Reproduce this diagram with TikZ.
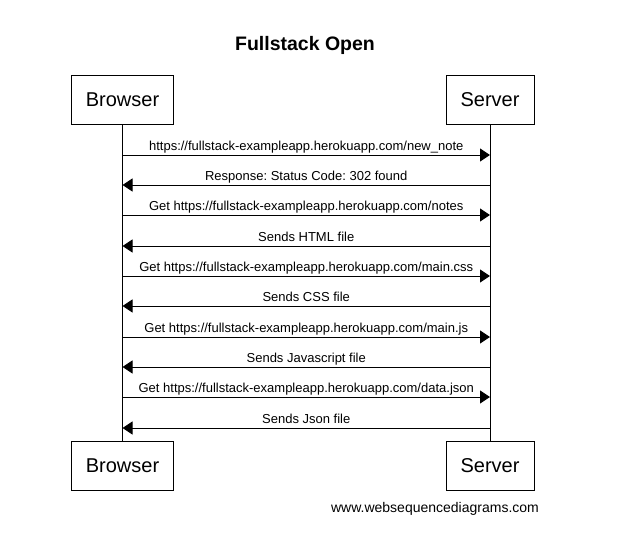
\documentclass[tikz,border=0pt]{standalone}
\usepackage{fontspec}
\setmainfont{Liberation Sans}
\frenchspacing
\usetikzlibrary{arrows.meta}

\tikzset{
  actor/.style={draw, line width=1pt, minimum height=49pt, inner sep=0pt,
    font=\fontsize{20}{24}\selectfont},
  msg/.style={line width=1pt, -{Triangle[length=10pt, width=13pt]}},
  lbl/.style={anchor=base, inner sep=0pt, yshift=5pt, font=\fontsize{13}{15}\selectfont}
}

\begin{document}
\begin{tikzpicture}[x=1pt, y=-1pt]
  \useasboundingbox (0,0) rectangle (618,544);

  % Titulo
  \node[font=\bfseries\fontsize{19.5}{23}\selectfont] (title) at (305,45) {Fullstack Open};

  % Participantes
  \node[actor, minimum width=102pt] (browserTop) at (122.5,100) {Browser};
  \node[actor, minimum width=88pt] (serverTop) at (490,100) {Server};
  \node[actor, minimum width=102pt] (browserBot) at (122.5,466) {Browser};
  \node[actor, minimum width=88pt] (serverBot) at (490,466) {Server};

  % Lineas de vida
  \draw[line width=1pt] (browserTop) -- (browserBot);
  \draw[line width=1pt] (serverTop) -- (serverBot);

  % Puntos de los mensajes
  \coordinate (b1) at (122.5,155); \coordinate (s1) at (490,155);
  \coordinate (b2) at (122.5,185); \coordinate (s2) at (490,185);
  \coordinate (b3) at (122.5,215); \coordinate (s3) at (490,215);
  \coordinate (b4) at (122.5,246); \coordinate (s4) at (490,246);
  \coordinate (b5) at (122.5,276); \coordinate (s5) at (490,276);
  \coordinate (b6) at (122.5,306); \coordinate (s6) at (490,306);
  \coordinate (b7) at (122.5,337); \coordinate (s7) at (490,337);
  \coordinate (b8) at (122.5,367); \coordinate (s8) at (490,367);
  \coordinate (b9) at (122.5,397); \coordinate (s9) at (490,397);
  \coordinate (b10) at (122.5,428); \coordinate (s10) at (490,428);

  % Mensajes
  \draw[msg] (b1) -- node[lbl] {https://fullstack-exampleapp.herokuapp.com/new\_note} (s1);
  \draw[msg] (s2) -- node[lbl] {Response: Status Code: 302 found} (b2);
  \draw[msg] (b3) -- node[lbl] {Get https://fullstack-exampleapp.herokuapp.com/notes} (s3);
  \draw[msg] (s4) -- node[lbl] {Sends HTML file} (b4);
  \draw[msg] (b5) -- node[lbl] {Get https://fullstack-exampleapp.herokuapp.com/main.css} (s5);
  \draw[msg] (s6) -- node[lbl] {Sends CSS file} (b6);
  \draw[msg] (b7) -- node[lbl] {Get https://fullstack-exampleapp.herokuapp.com/main.js} (s7);
  \draw[msg] (s8) -- node[lbl] {Sends Javascript file} (b8);
  \draw[msg] (b9) -- node[lbl] {Get https://fullstack-exampleapp.herokuapp.com/data.json} (s9);
  \draw[msg] (s10) -- node[lbl] {Sends Json file} (b10);

  % Pie
  \node[font=\fontsize{14}{17}\selectfont] (footer) at (435,509) {www.websequencediagrams.com};
\end{tikzpicture}
\end{document}
